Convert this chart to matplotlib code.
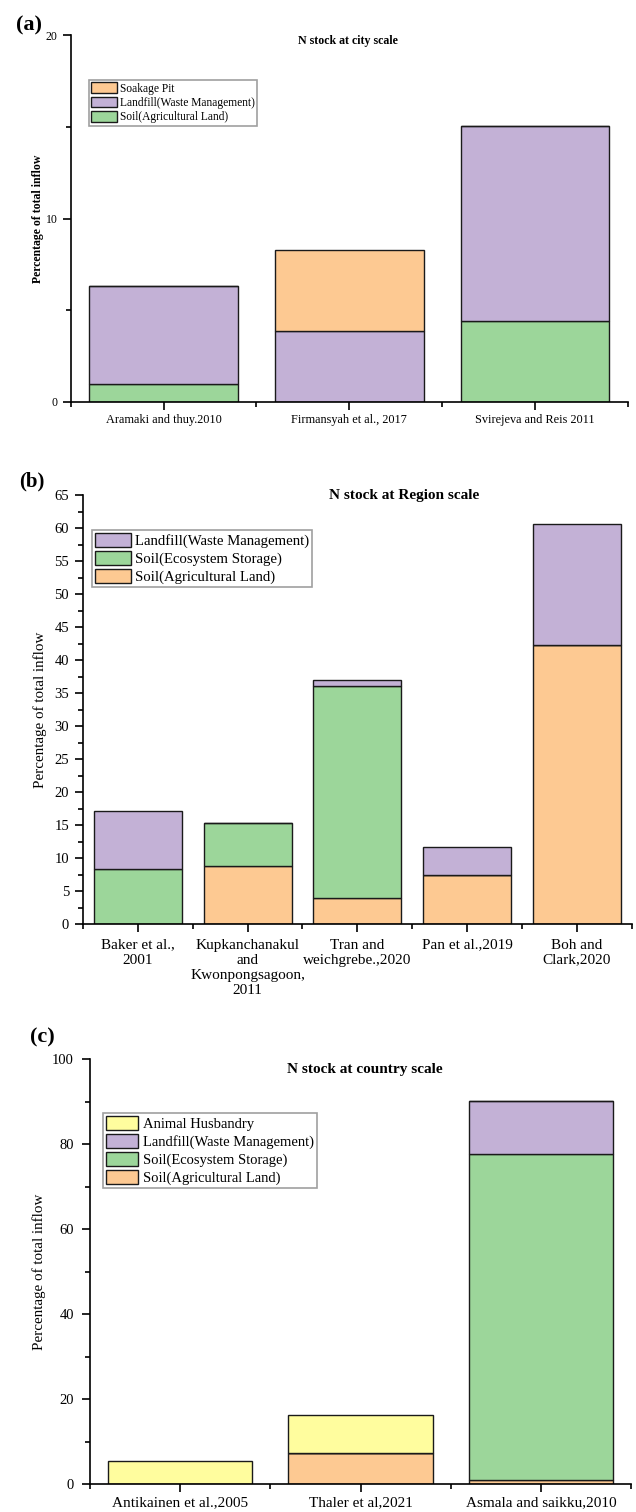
import matplotlib
matplotlib.use("Agg")
import matplotlib.pyplot as plt
import numpy as np

plt.rcParams['font.family'] = ['Liberation Serif', 'DejaVu Serif']

# ---------------- data ----------------
# (a) city scale
a_categories = ["Aramaki and thuy.2010", "Firmansyah et al., 2017", "Svirejeva and Reis 2011"]
a_soil_agri = [1.0, 0.0, 4.41]
a_landfill = [5.33, 3.87, 10.62]
a_soakage = [0.0, 4.44, 0.0]

# (b) region scale
b_categories = ["Baker et al.,\n2001", "Kupkanchanakul\nand\nKwonpongsagoon,\n2011",
                "Tran and\nweichgrebe.,2020", "Pan et al.,2019", "Boh and\nClark,2020"]
b_soil_agri = [0.0, 8.8, 3.94, 7.5, 42.3]
b_soil_eco = [8.37, 6.43, 32.06, 0.0, 0.0]
b_landfill = [8.73, 0.0, 1.0, 4.1, 18.3]

# (c) country scale
c_categories = ["Antikainen et al.,2005", "Thaler et al,2021", "Asmala and saikku,2010"]
c_soil_agri = [0.0, 7.2, 1.0]
c_soil_eco = [0.0, 0.0, 76.6]
c_landfill = [0.0, 0.0, 12.6]
c_animal = [5.5, 9.1, 0.0]

# ---------------- style ----------------
ORANGE = '#FDC992'
GREEN = '#9CD69A'
PURPLE = '#C3B1D6'
YELLOW = '#FFFD9E'
EDGE = '#1a1a1a'

W, H = 636, 1512
fig = plt.figure(figsize=(W / 100, H / 100), dpi=100)


def px_axes(x0, x1, ytop, ybot):
    return fig.add_axes([x0 / W, 1 - ybot / H, (x1 - x0) / W, (ybot - ytop) / H])


def stack(ax, cats, series, width=0.8):
    x = np.arange(1, len(cats) + 1)
    bottom = np.zeros(len(cats))
    handles = {}
    for vals, color, label in series:
        v = np.array(vals, dtype=float)
        h = ax.bar(x, v, width=width, bottom=bottom, color=color, edgecolor=EDGE,
                   linewidth=1.0, label=label)
        handles[label] = h
        bottom = bottom + v
    return x, handles


def style_axes(ax, n, ymax, major, minor, tick_fs, xtick_fs, xpad, ypad):
    ax.set_xlim(0.5, n + 0.5)
    ax.set_ylim(0, ymax)
    for s in ['top', 'right']:
        ax.spines[s].set_visible(False)
    for s in ['left', 'bottom']:
        ax.spines[s].set_linewidth(1.2)
    ax.set_yticks(np.arange(0, ymax + 0.01, major))
    ax.set_yticks(np.arange(0, ymax + 0.01, minor), minor=True)
    ax.set_xticks(np.arange(0.5, n + 0.51, 1.0), minor=True)
    ax.tick_params(axis='both', which='major', direction='out', length=6, width=1.2)
    ax.tick_params(axis='both', which='minor', direction='out', length=3.5, width=1.2)
    ax.tick_params(axis='y', which='major', labelsize=tick_fs, pad=ypad)
    ax.tick_params(axis='x', which='major', labelsize=xtick_fs, pad=xpad)


# ---------------- panel (a) ----------------
axa = px_axes(70.7, 628, 35, 402)
xa, ha = stack(axa, a_categories, [(a_soil_agri, GREEN, 'Soil(Agricultural Land)'),
                                   (a_landfill, PURPLE, 'Landfill(Waste Management)'),
                                   (a_soakage, ORANGE, 'Soakage Pit')])
style_axes(axa, 3, 20, 10, 5, 8.5, 8.8, 3, 3.5)
axa.set_xticks(xa)
axa.set_xticklabels(a_categories)
axa.text(0.4976, 0.984, "N stock at city scale", transform=axa.transAxes, ha='center',
         va='center', fontsize=8.6, fontweight='bold')
axa.text(-0.058, 0.5, "Percentage of total inflow", transform=axa.transAxes, rotation=90,
         ha='center', va='center', fontsize=8.5, fontweight='bold')
la = axa.legend([ha['Soakage Pit'], ha['Landfill(Waste Management)'], ha['Soil(Agricultural Land)']],
                ['Soakage Pit', 'Landfill(Waste Management)', 'Soil(Agricultural Land)'],
                loc='upper left', bbox_to_anchor=(0.033, 0.877), borderaxespad=0,
                fontsize=8.3, frameon=True, fancybox=False, edgecolor='#888888',
                handlelength=2.2, handleheight=1.0, handletextpad=0.3, labelspacing=0.2,
                borderpad=0.2)
la.get_frame().set_linewidth(1.2)
fig.text(29 / W, 1 - 25 / H, "(a)", ha='center', va='center', fontsize=16, fontweight='bold')

# ---------------- panel (b) ----------------
axb = px_axes(83, 631.7, 495, 924)
xb, hb = stack(axb, b_categories, [(b_soil_agri, ORANGE, 'Soil(Agricultural Land)'),
                                   (b_soil_eco, GREEN, 'Soil(Ecosystem Storage)'),
                                   (b_landfill, PURPLE, 'Landfill(Waste Management)')])
style_axes(axb, 5, 65, 5, 2.5, 10.5, 11, 4.5, 4)
axb.set_xticks(xb)
axb.set_xticklabels(b_categories, linespacing=1.2)
axb.text(0.585, 0.9977, "N stock at Region scale", transform=axb.transAxes, ha='center',
         va='center', fontsize=11, fontweight='bold')
axb.text(-0.0775, 0.5, "Percentage of total inflow", transform=axb.transAxes, rotation=90,
         ha='center', va='center', fontsize=10.8)
lb = axb.legend([hb['Landfill(Waste Management)'], hb['Soil(Ecosystem Storage)'], hb['Soil(Agricultural Land)']],
                ['Landfill(Waste Management)', 'Soil(Ecosystem Storage)', 'Soil(Agricultural Land)'],
                loc='upper left', bbox_to_anchor=(0.0173, 0.918), borderaxespad=0,
                fontsize=10.6, frameon=True, fancybox=False, edgecolor='#888888',
                handlelength=2.4, handleheight=1.1, handletextpad=0.27, labelspacing=0.18,
                borderpad=0.2)
lb.get_frame().set_linewidth(1.2)
fig.text(32 / W, 1 - 481 / H, "(b)", ha='center', va='center', fontsize=15, fontweight='bold')

# ---------------- panel (c) ----------------
axc = px_axes(90, 631, 1059, 1484)
xc, hc = stack(axc, c_categories, [(c_soil_agri, ORANGE, 'Soil(Agricultural Land)'),
                                   (c_soil_eco, GREEN, 'Soil(Ecosystem Storage)'),
                                   (c_landfill, PURPLE, 'Landfill(Waste Management)'),
                                   (c_animal, YELLOW, 'Animal Husbandry')])
style_axes(axc, 3, 100, 20, 10, 10.5, 11, 3, 5.5)
axc.set_xticks(xc)
axc.set_xticklabels(c_categories)
axc.text(0.508, 0.976, "N stock at country scale", transform=axc.transAxes, ha='center',
         va='center', fontsize=11, fontweight='bold')
axc.text(-0.094, 0.5, "Percentage of total inflow", transform=axc.transAxes, rotation=90,
         ha='center', va='center', fontsize=10.8)
lc = axc.legend([hc['Animal Husbandry'], hc['Landfill(Waste Management)'], hc['Soil(Ecosystem Storage)'],
                 hc['Soil(Agricultural Land)']],
                ['Animal Husbandry', 'Landfill(Waste Management)', 'Soil(Ecosystem Storage)',
                 'Soil(Agricultural Land)'],
                loc='upper left', bbox_to_anchor=(0.024, 0.873), borderaxespad=0,
                fontsize=10.5, frameon=True, fancybox=False, edgecolor='#888888',
                handlelength=2.2, handleheight=1.07, handletextpad=0.33, labelspacing=0.22,
                borderpad=0.2)
lc.get_frame().set_linewidth(1.2)
fig.text(42 / W, 1 - 1037 / H, "(c)", ha='center', va='center', fontsize=16, fontweight='bold')

fig.savefig("out.png", dpi=100)
